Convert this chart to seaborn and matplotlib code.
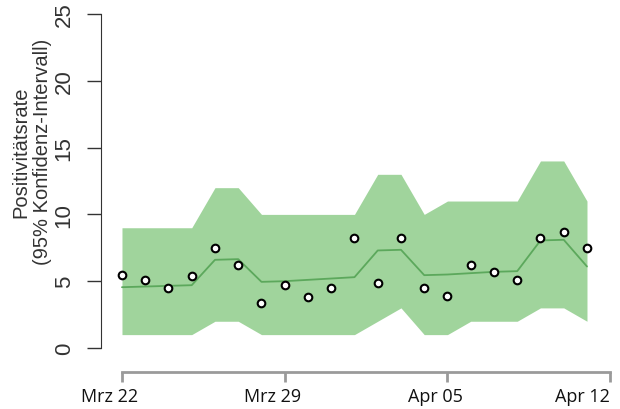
import numpy as np
import pandas as pd
import seaborn as sns
import matplotlib.pyplot as plt
import matplotlib.dates as mdates
import matplotlib.transforms as mtransforms

# daily positivity rate (%), Mrz 22 .. Apr 11
start = "2021-03-22"
rate = [5.5, 5.1, 4.5, 5.4, 7.5, 6.2, 3.4, 4.7, 3.8, 4.5, 8.2,
        4.9, 8.2, 4.5, 3.9, 6.2, 5.7, 5.1, 8.2, 8.7, 7.5]
# smoothed rate (green line)
smooth = [4.55, 4.6, 4.65, 4.7, 6.6, 6.65, 4.95, 5.0, 5.1, 5.2, 5.3,
          7.3, 7.35, 5.45, 5.5, 5.6, 5.7, 5.75, 8.05, 8.1, 6.1]
# 95% confidence interval
ci_low = [1, 1, 1, 1, 2, 2, 1, 1, 1, 1, 1,
          2, 3, 1, 1, 2, 2, 2, 3, 3, 2]
ci_high = [9, 9, 9, 9, 12, 12, 10, 10, 10, 10, 10,
           13, 13, 10, 11, 11, 11, 11, 14, 14, 11]
tick_dates = ["2021-03-22", "2021-03-29", "2021-04-05", "2021-04-12"]
tick_labels = ["Mrz 22", "Mrz 29", "Apr 05", "Apr 12"]

df = pd.DataFrame({
    "date": pd.date_range(start, periods=len(rate), freq="D"),
    "rate": rate, "smooth": smooth, "lo": ci_low, "hi": ci_high,
})

sns.set_style("white")
plt.rcParams["font.family"] = ["Liberation Sans", "DejaVu Sans"]

fig = plt.figure(figsize=(6.2, 4.1), dpi=100)
ax = fig.add_axes([0.163, 0.0902, 0.837, 0.8976])

ax.fill_between(df["date"], df["lo"], df["hi"], color="#a0d49c", lw=0)
sns.lineplot(data=df, x="date", y="smooth", color="#5ca85c", lw=1.3, ax=ax)
sns.scatterplot(data=df, x="date", y="rate", color="white", edgecolor="black",
                linewidth=1.5, s=30, zorder=5, ax=ax)

t0 = pd.Timestamp(tick_dates[0])
t1 = pd.Timestamp(tick_dates[-1])
ax.set_xlim(t0 - pd.Timedelta(days=0.9), t0 + pd.Timedelta(days=21.42))
ax.set_ylim(-1.8, 25.75)

for s in ["top", "right"]:
    ax.spines[s].set_visible(False)
ax.spines["left"].set_bounds(0, 25)
ax.spines["left"].set_color("#333333")
ax.spines["bottom"].set_bounds(mdates.date2num(t0), mdates.date2num(t1))
ax.spines["bottom"].set_color("#9a9a9a")
ax.spines["bottom"].set_linewidth(2)

ax.set_yticks([0, 5, 10, 15, 20, 25])
ax.set_yticklabels(["0", "5", "10", "15", "20", "25"], rotation=90,
                   va="center", fontsize=16, color="#333333")
ax.tick_params(axis="y", length=10, width=1, color="#333333", pad=9, left=True)

ax.set_xticks(pd.to_datetime(tick_dates))
ax.set_xticklabels(tick_labels, fontsize=13, color="#111111",
                   family=["Open Sans", "DejaVu Sans"])
ax.tick_params(axis="x", length=7, width=2, color="#9a9a9a", pad=4, bottom=True)
shift = mtransforms.ScaledTranslation(-12 / 100, 0, fig.dpi_scale_trans)
xlabs = ax.get_xticklabels()
for lab in xlabs[:-1]:
    lab.set_transform(lab.get_transform() + shift)
xlabs[-1].set_ha("right")

ax.set_xlabel("")
ax.set_ylabel("")
fig.text(0.051, 0.629, "Positivitätsrate\n(95% Konfidenz-Intervall)",
         rotation=90, ha="center", va="center", fontsize=14.5,
         color="#333333", linespacing=1.15)

fig.savefig("out.png", dpi=100)
